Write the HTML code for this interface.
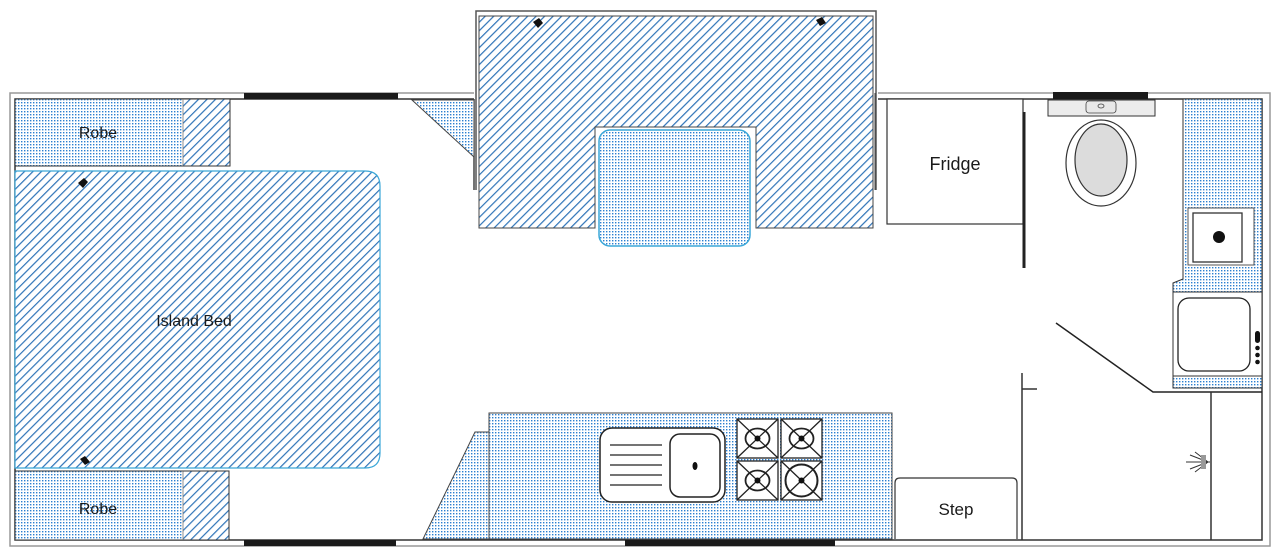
<!DOCTYPE html>
<html><head><meta charset="utf-8"><style>
html,body{margin:0;padding:0;background:#fff;width:1280px;height:556px;overflow:hidden}
text{font-family:"Liberation Sans",sans-serif;fill:#1a1a1a}
</style></head><body>
<svg width="1280" height="556" viewBox="0 0 1280 556" xmlns="http://www.w3.org/2000/svg">
<defs>
<pattern id="h" width="6" height="6" patternUnits="userSpaceOnUse" patternTransform="rotate(45)">
<rect width="6" height="6" fill="#fff"/><rect x="0" y="0" width="1.2" height="6" fill="#2f74b8"/>
</pattern>
<pattern id="d" width="3" height="3" patternUnits="userSpaceOnUse">
<rect width="3" height="3" fill="#fff"/><rect x="0" y="0" width="1.4" height="1.4" fill="#2b7fd0"/>
</pattern>
</defs>

<rect x="10" y="93" width="1260" height="453" fill="none" stroke="#999" stroke-width="1.5"/>
<rect x="15" y="99" width="1247" height="441" fill="none" stroke="#333" stroke-width="1.5"/>
<rect x="244" y="93" width="154" height="6" fill="#1a1a1a"/>
<rect x="1053" y="92" width="95" height="7" fill="#1a1a1a"/>
<rect x="244" y="540" width="152" height="6" fill="#1a1a1a"/>
<rect x="625" y="540" width="210" height="6" fill="#1a1a1a"/>

<rect x="474" y="11" width="404" height="90" fill="#fff"/>
<path d="M476 190 V11 H876 V190" fill="none" stroke="#555" stroke-width="1.5"/>
<path d="M479 16 H873 V228 H756 V127 H595 V228 H479 Z" fill="url(#h)" stroke="#444" stroke-width="1"/>
<line x1="474" y1="99" x2="474" y2="190" stroke="#444" stroke-width="1.5"/>
<line x1="875" y1="93" x2="875" y2="190" stroke="#444" stroke-width="1"/>
<rect x="599" y="130" width="151" height="116" rx="11" fill="url(#d)" stroke="#3aa7d8" stroke-width="1.5"/>
<path d="M412 100 L474 100 L474 157 Z" fill="url(#d)" stroke="#444" stroke-width="1"/>
<path d="M533 22 l6 -4 l4 5 l-5 5z" fill="#111"/>
<path d="M816 20 l6 -3 l4 6 l-6 3z" fill="#111"/>

<rect x="15" y="99" width="168" height="67" fill="url(#d)"/>
<rect x="183" y="99" width="47" height="67" fill="url(#h)"/>
<rect x="15" y="99" width="215" height="67" fill="none" stroke="#333" stroke-width="1"/>
<line x1="183" y1="99" x2="183" y2="166" stroke="#777" stroke-width="0.8"/>
<text x="98" y="138" font-size="16" text-anchor="middle">Robe</text>
<path d="M15 171 H365 Q380 171 380 186 V453 Q380 468 365 468 H15 Z" fill="url(#h)" stroke="#3aa7d8" stroke-width="1.2"/>
<text x="194" y="326" font-size="16" text-anchor="middle">Island Bed</text>
<path d="M78 183 l6 -5 l4 4 l-5 6z" fill="#111"/>
<path d="M80 459 l5 -3 l5 6 l-5 3z" fill="#111"/>
<rect x="15" y="471" width="168" height="69" fill="url(#d)"/>
<rect x="183" y="471" width="46" height="69" fill="url(#h)"/>
<rect x="15" y="471" width="214" height="69" fill="none" stroke="#333" stroke-width="1"/>
<line x1="183" y1="471" x2="183" y2="540" stroke="#777" stroke-width="0.8"/>
<text x="98" y="514" font-size="16" text-anchor="middle">Robe</text>

<path d="M423 539 L475 432 L489 432 L489 539 Z" fill="url(#d)" stroke="#444" stroke-width="1"/>
<rect x="489" y="413" width="403" height="126" fill="url(#d)" stroke="#444" stroke-width="1"/>
<rect x="600" y="428" width="125" height="74" rx="12" fill="#fff" stroke="#222" stroke-width="1.5"/>
<rect x="670" y="434" width="50" height="63" rx="10" fill="#fff" stroke="#222" stroke-width="1.5"/>
<ellipse cx="695" cy="466" rx="2.5" ry="4" fill="#111"/>
<g stroke="#222" stroke-width="1.3">
<line x1="610" y1="445" x2="662" y2="445"/><line x1="610" y1="455" x2="662" y2="455"/>
<line x1="610" y1="465" x2="662" y2="465"/><line x1="610" y1="475" x2="662" y2="475"/>
<line x1="610" y1="485" x2="662" y2="485"/></g>
<g stroke="#222" fill="#fff" stroke-width="1.3">
<rect x="737" y="419" width="41" height="39"/><rect x="781" y="419" width="41" height="39"/>
<rect x="737" y="461" width="41" height="39"/><rect x="781" y="461" width="41" height="39"/>
<path d="M737 419 L778 458 M778 419 L737 458 M781 419 L822 458 M822 419 L781 458 M737 461 L778 500 M778 461 L737 500 M781 461 L822 500 M822 461 L781 500" fill="none"/>
<ellipse cx="757.5" cy="438.5" rx="12" ry="10" fill="none" stroke-width="1.8"/>
<ellipse cx="801.5" cy="438.5" rx="12" ry="10" fill="none" stroke-width="1.8"/>
<ellipse cx="757.5" cy="480.5" rx="12" ry="10" fill="none" stroke-width="1.8"/>
<circle cx="801.5" cy="480.5" r="16" fill="none" stroke-width="2"/>
</g>
<g fill="#111"><circle cx="757.5" cy="438.5" r="3"/><circle cx="801.5" cy="438.5" r="3"/><circle cx="757.5" cy="480.5" r="3"/><circle cx="801.5" cy="480.5" r="3"/></g>

<rect x="887" y="99" width="136" height="125" fill="#fff" stroke="#333" stroke-width="1.2"/>
<text x="955" y="170" font-size="18" text-anchor="middle">Fridge</text>
<line x1="1024" y1="112" x2="1024" y2="268" stroke="#222" stroke-width="3"/>
<path d="M895 539 V483 Q895 478 900 478 H1012 Q1017 478 1017 483 V539" fill="#fff" stroke="#333" stroke-width="1.2"/>
<text x="956" y="515" font-size="17" text-anchor="middle">Step</text>
<line x1="1022" y1="373" x2="1022" y2="540" stroke="#333" stroke-width="1.5"/>
<line x1="1022" y1="389" x2="1037" y2="389" stroke="#333" stroke-width="1.5"/>

<rect x="1048" y="100" width="107" height="16" fill="#ececec" stroke="#333" stroke-width="1"/>
<rect x="1086" y="101" width="30" height="12" rx="3" fill="#e8e8e8" stroke="#444" stroke-width="0.8"/>
<ellipse cx="1101" cy="106" rx="3" ry="2" fill="none" stroke="#444" stroke-width="0.8"/>
<ellipse cx="1101" cy="163" rx="35" ry="43" fill="#fff" stroke="#333" stroke-width="1.2"/>
<ellipse cx="1101" cy="160" rx="26" ry="36" fill="#dcdcdc" stroke="#333" stroke-width="1.2"/>
<path d="M1183 99 H1262 V388 H1173 V283 L1183 279 Z" fill="url(#d)" stroke="#333" stroke-width="1"/>
<rect x="1188" y="208" width="66" height="57" fill="#fff" stroke="#555" stroke-width="1"/>
<rect x="1193" y="213" width="49" height="49" fill="#fff" stroke="#333" stroke-width="1.3"/>
<circle cx="1219" cy="237" r="6" fill="#111"/>
<rect x="1173" y="292" width="89" height="84" fill="#fff" stroke="#333" stroke-width="1"/>
<rect x="1178" y="298" width="72" height="73" rx="11" fill="#fff" stroke="#222" stroke-width="1.3"/>
<rect x="1255" y="331" width="5" height="12" rx="2.5" fill="#111"/>
<g fill="#111"><circle cx="1257.5" cy="348" r="2.3"/><circle cx="1257.5" cy="355" r="2.3"/><circle cx="1257.5" cy="362" r="2.3"/></g>
<path d="M1056 323 L1153 392 H1262" fill="none" stroke="#222" stroke-width="1.5"/>
<line x1="1211" y1="392" x2="1211" y2="540" stroke="#333" stroke-width="1.5"/>
<g stroke="#333" stroke-width="1"><path d="M1186 462 H1210 M1190 455 L1208 462 M1190 469 L1208 462 M1195 452 L1208 462 M1195 472 L1208 462"/></g>
<rect x="1201" y="455" width="5" height="14" fill="#999"/>
</svg>
</body></html>
